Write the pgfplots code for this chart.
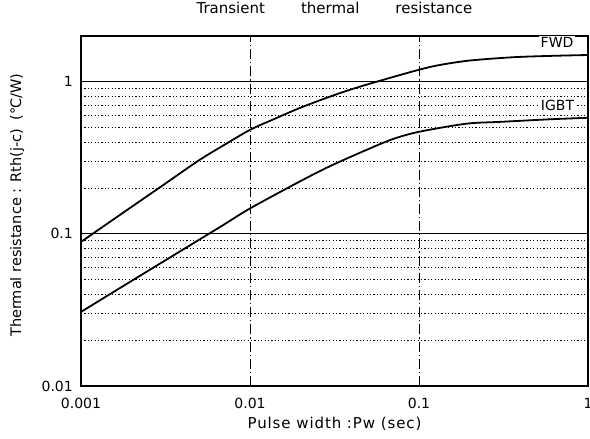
\documentclass[border=0pt]{standalone}
\usepackage{pgfplots}
\pgfplotsset{compat=1.18}
\usepackage{fontspec}
\setmainfont{DejaVu Sans}
\begin{document}
\begin{tikzpicture}
\path[use as bounding box] (-81pt,-53pt) rectangle (509pt,386pt);
\begin{axis}[
  scale only axis,
  width=507pt, height=350pt,
  xmode=log, ymode=log,
  xmin=0.001, xmax=1, ymin=0.01, ymax=2,
  xtick={0.001,0.01,0.1,1},
  xticklabels={0.001,0.01,0.1,1},
  ytick={0.01,0.1,1},
  yticklabels={0.01,0.1,1},
  minor ytick={0.02,0.03,0.04,0.05,0.06,0.07,0.08,0.09,0.2,0.3,0.4,0.5,0.6,0.7,0.8,0.9},
  minor xtick={},
  major tick length=0pt, minor tick length=0pt,
  xmajorgrids, ymajorgrids, yminorgrids,
  x grid style={black, line width=0.9pt, dash pattern=on 10pt off 3pt on 1.2pt off 3pt},
  major y grid style={black, line width=1.2pt},
  minor y grid style={black, line width=1.2pt, dash pattern=on 1.2pt off 2.2pt},
  axis line style={black, line width=1.5pt},
  tick label style={font=\fontsize{14}{16}\selectfont},
  yticklabel style={inner sep=0pt, anchor=east, xshift=-8pt},
  xticklabel style={inner sep=0pt, anchor=north, yshift=-12pt},
  title={Transient\hspace{2.4em}thermal\hspace{2.4em}resistance},
  title style={at={(axis description cs:0.5,1.062)}, anchor=center, inner sep=0pt, font=\fontsize{15}{17}\selectfont},
  xlabel={Pulse width :Pw (sec)},
  xlabel style={at={(axis description cs:0.5,0)}, anchor=north, yshift=-31pt, inner sep=0pt, font=\fontsize{15}{17}\selectfont\addfontfeatures{LetterSpace=6}},
  ylabel={Thermal resistance : Rth(j-c)\hspace{0.6em}(℃/W)},
  ylabel style={at={(axis description cs:-0.126,0.517)}, anchor=center, inner sep=0pt, font=\fontsize{14.5}{17}\selectfont},
  clip=true,
]
\addplot[black, line width=1.8pt, smooth, tension=0.5] coordinates {
(0.001,0.0886) (0.002,0.151) (0.003,0.206) (0.005,0.305) (0.007,0.383) (0.01,0.483)
(0.014,0.571) (0.0198,0.674) (0.028,0.78) (0.039,0.886) (0.056,1.0) (0.1,1.2) (0.133,1.29) (0.2,1.38) (0.36,1.45) (0.6,1.48) (1,1.50)
};
\addplot[black, line width=1.8pt, smooth, tension=0.5] coordinates {
(0.001,0.0307) (0.002,0.0492) (0.004,0.0787) (0.007,0.115) (0.01,0.147) (0.02,0.223)
(0.03,0.28) (0.049,0.357) (0.07,0.42) (0.1,0.469) (0.19,0.53) (0.3,0.545) (0.6,0.567) (1,0.58)
};
\node[fill=white, inner sep=1.5pt, font=\fontsize{14}{16}\selectfont] at (axis cs:0.656,1.81) {FWD};
\node[fill=white, inner sep=1.5pt, font=\fontsize{14}{16}\selectfont] at (axis cs:0.66,0.695) {IGBT};
\end{axis}
\end{tikzpicture}
\end{document}
